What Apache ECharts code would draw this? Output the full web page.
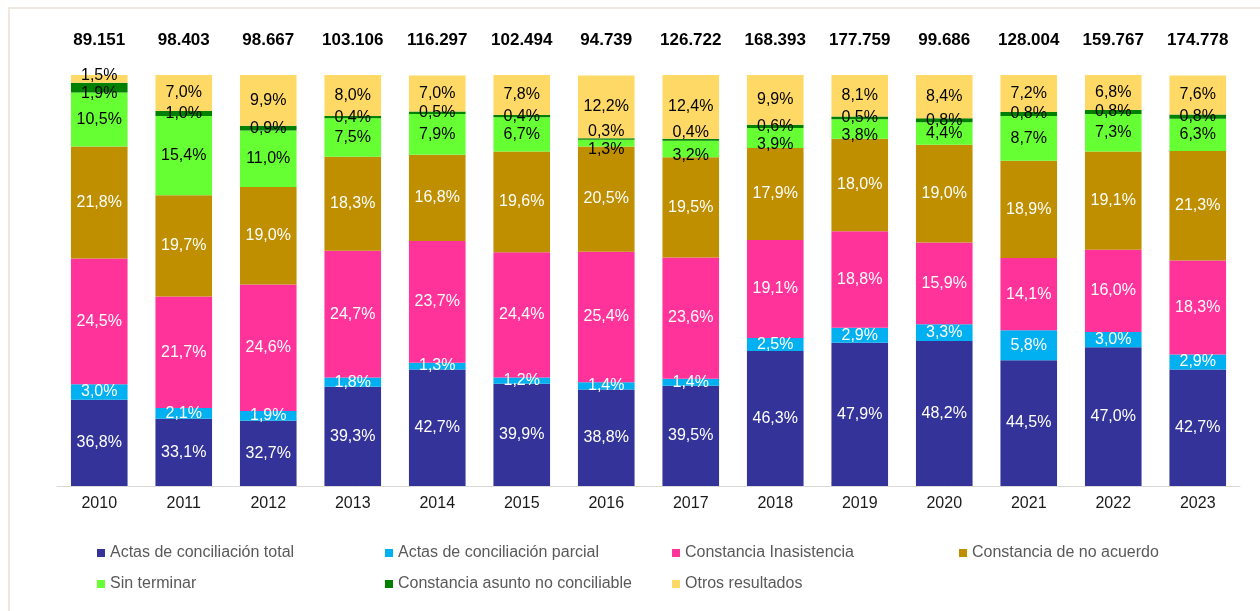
<!DOCTYPE html>
<html>
<head>
<meta charset="utf-8">
<script src="https://cdn.jsdelivr.net/npm/echarts@6/dist/echarts.min.js"></script>
<style>
  html, body { margin: 0; padding: 0; background: #ffffff; }
  #frame { position: absolute; left: 8px; top: 7px; width: 1300px; height: 700px;
           border-left: 2px solid #efe7de; border-top: 2px solid #efe7de; box-sizing: border-box; }
  #chart { position: absolute; left: 0; top: 0; width: 1260px; height: 611px; }
</style>
</head>
<body>
<div id="frame"></div>
<div id="chart"></div>
<script>
const years = ['2010','2011','2012','2013','2014','2015','2016','2017','2018','2019','2020','2021','2022','2023'];
const totals = ['89.151','98.403','98.667','103.106','116.297','102.494','94.739','126.722','168.393','177.759','99.686','128.004','159.767','174.778'];

const actasTotal     = [36.8, 33.1, 32.7, 39.3, 42.7, 39.9, 38.8, 39.5, 46.3, 47.9, 48.2, 44.5, 47.0, 42.7];
const actasParcial   = [3.0, 2.1, 1.9, 1.8, 1.3, 1.2, 1.4, 1.4, 2.5, 2.9, 3.3, 5.8, 3.0, 2.9];
const inasistencia   = [24.5, 21.7, 24.6, 24.7, 23.7, 24.4, 25.4, 23.6, 19.1, 18.8, 15.9, 14.1, 16.0, 18.3];
const noAcuerdo      = [21.8, 19.7, 19.0, 18.3, 16.8, 19.6, 20.5, 19.5, 17.9, 18.0, 19.0, 18.9, 19.1, 21.3];
const sinTerminar    = [10.5, 15.4, 11.0, 7.5, 7.9, 6.7, 1.3, 3.2, 3.9, 3.8, 4.4, 8.7, 7.3, 6.3];
const noConciliable  = [1.9, 1.0, 0.9, 0.4, 0.5, 0.4, 0.3, 0.4, 0.6, 0.5, 0.8, 0.8, 0.8, 0.8];
const otros          = [1.5, 7.0, 9.9, 8.0, 7.0, 7.8, 12.2, 12.4, 9.9, 8.1, 8.4, 7.2, 6.8, 7.6];

const seriesNames = ['Actas de conciliación total','Actas de conciliación parcial','Constancia Inasistencia',
  'Constancia de no acuerdo','Sin terminar','Constancia asunto no conciliable','Otros resultados'];
const seriesData = [actasTotal, actasParcial, inasistencia, noAcuerdo, sinTerminar, noConciliable, otros];
const colors = ['#333399','#00B0F0','#FF3399','#BF8F00','#66FF33','#008000','#FFD966'];
const labelColors = ['#ffffff','#ffffff','#ffffff','#ffffff','#000000','#000000','#000000'];

const FONT = '"Liberation Sans", Arial, sans-serif';

// Nudge labels of thin neighbouring segments apart so they do not overlap
function nudge(p) {
  const i = p.dataIndex;
  if (p.seriesIndex === 4) {            // Sin terminar
    if (p.rect.height < 21) return { dy: 7 };
  } else if (p.seriesIndex === 5) {     // Constancia asunto no conciliable
    if (otros[i] < 3) return { dy: 6 };
    if (sinTerminar[i] < 3.5) return { dy: -7 };
  } else if (p.seriesIndex === 6) {     // Otros resultados
    if (p.rect.height < 12) return { dy: -3 };
  }
  return {};
}

const chart = echarts.init(document.getElementById('chart'), null, { renderer: 'canvas' });

const series = seriesNames.map((name, i) => ({
  name: name,
  type: 'bar',
  stack: 'total',
  barWidth: '67%',
  xAxisIndex: 0,
  data: seriesData[i],
  itemStyle: { color: colors[i] },
  label: {
    show: true,
    position: 'inside',
    color: labelColors[i],
    fontFamily: FONT,
    fontSize: 16,
    formatter: p => p.value.toFixed(1).replace('.', ',') + '%'
  },
  labelLayout: nudge,
  emphasis: { disabled: true }
}));

function legendCol(left, names) {
  return {
    orient: 'vertical',
    left: left,
    top: 545,
    padding: 0,
    itemGap: 15,
    itemWidth: 8,
    itemHeight: 8,
    icon: 'rect',
    data: names,
    textStyle: { fontFamily: FONT, fontSize: 16, color: '#595959' },
    selectedMode: false
  };
}

chart.setOption({
  animation: false,
  color: colors,
  grid: { left: 57, right: 20, top: 75, bottom: 125 },
  xAxis: [
    {
      type: 'category',
      data: years,
      axisLine: { show: true, lineStyle: { color: '#d9d9d9', width: 1 } },
      axisTick: { show: false },
      axisLabel: { fontFamily: FONT, fontSize: 16, color: '#1a1a1a', margin: 10 }
    },
    {
      type: 'category',
      position: 'top',
      data: totals,
      axisLine: { show: false },
      axisTick: { show: false },
      axisLabel: { fontFamily: FONT, fontSize: 17, fontWeight: 'bold', color: '#000000', margin: 26 }
    }
  ],
  yAxis: {
    type: 'value',
    min: 20,
    max: 100,
    show: false,
    splitLine: { show: false }
  },
  legend: [
    legendCol(97, [seriesNames[0], seriesNames[4]]),
    legendCol(385, [seriesNames[1], seriesNames[5]]),
    legendCol(672, [seriesNames[2], seriesNames[6]]),
    legendCol(959, [seriesNames[3]])
  ],
  series: series
});
</script>
</body>
</html>
